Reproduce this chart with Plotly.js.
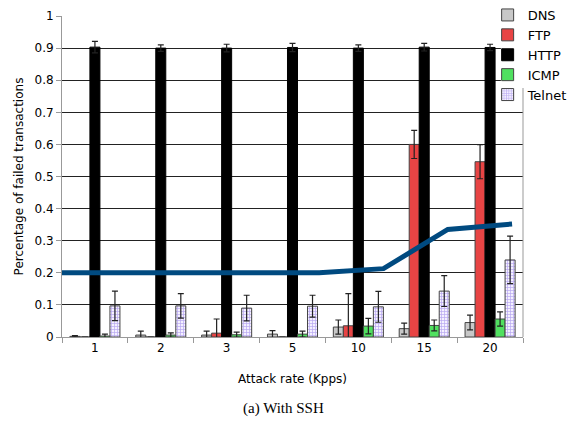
<!DOCTYPE html>
<html><head><meta charset="utf-8">
<script src="https://cdn.plot.ly/plotly-3.0.1.min.js"></script>
<style>body{margin:0;background:#fff}#c{width:569px;height:422px}</style>
</head><body><div id="c"></div>
<script>
const categories = ['1','2','3','5','10','15','20'];
const dns = [0.002,0.006,0.006,0.009,0.031,0.026,0.045];
const dnsErr = [0.002,0.012,0.012,0.011,0.022,0.017,0.023];
const ftp = [0,0,0.012,0,0.035,0.6,0.546];
const ftpErr = [0,0,0.044,0,0.1,0.044,0.053];
const http = [0.903,0.9,0.9,0.902,0.9,0.903,0.902];
const httpErr = [0.018,0.01,0.012,0.013,0.01,0.012,0.01];
const icmp = [0.003,0.006,0.007,0.009,0.034,0.036,0.056];
const icmpErr = [0.006,0.007,0.008,0.009,0.024,0.017,0.022];
const telnet = [0.097,0.097,0.09,0.096,0.094,0.143,0.24];
const telnetErr = [0.046,0.038,0.04,0.034,0.048,0.048,0.074];
const linePos = [0,1,2,3,4,5,6,7];
const lineVals = [0.2,0.2,0.2,0.2,0.2,0.213,0.335,0.352];

const eb = (arr)=>({type:'data',array:arr,visible:true,color:'#222',thickness:1.2,width:3});
const border = {color:'#444',width:1};
const traces = [
 {type:'bar',name:'DNS',x:categories,y:dns,error_y:eb(dnsErr),marker:{color:'#c8c8c8',line:border}},
 {type:'bar',name:'FTP',x:categories,y:ftp,error_y:eb(ftpErr),marker:{color:'#e84444',line:border}},
 {type:'bar',name:'HTTP',x:categories,y:http,error_y:eb(httpErr),marker:{color:'#000000',line:{color:'#000',width:1}}},
 {type:'bar',name:'ICMP',x:categories,y:icmp,error_y:eb(icmpErr),marker:{color:'#50e060',line:border}},
 {type:'bar',name:'Telnet',x:categories,y:telnet,error_y:eb(telnetErr),marker:{color:'#ffffff',line:border,pattern:{shape:'+',fgcolor:'#b8a8f0',bgcolor:'#f4f0ff',size:3,solidity:0.4}}},
 {type:'scatter',mode:'lines',name:'SSH',x:linePos,y:lineVals,xaxis:'x2',showlegend:false,line:{color:'#004a80',width:5}}
];
const layout = {
 width:569,height:422,
 margin:{l:62,r:46,t:16,b:85,autoexpand:false},
 paper_bgcolor:'#fff',plot_bgcolor:'#fff',
 font:{family:'DejaVu Sans, Verdana, sans-serif',size:12,color:'#000'},
 barmode:'group',bargap:0.24,bargroupgap:0,
 showlegend:true,
 legend:{xref:'container',yref:'container',x:0.857,xanchor:'left',y:1.0,yanchor:'top',bgcolor:'rgba(0,0,0,0)',font:{size:13},tracegroupgap:0,itemwidth:30},
 xaxis:{type:'category',showline:true,linecolor:'#999',linewidth:1,ticks:'outside',tickson:'boundaries',ticklen:5,tickcolor:'#999',showgrid:false,
   title:{text:'Attack rate (Kpps)',font:{size:12},standoff:20}},
 xaxis2:{overlaying:'x',range:[0,7.17],visible:false},
 yaxis:{range:[0,1],dtick:0.1,showline:true,linecolor:'#999',linewidth:1,ticks:'outside',ticklen:5,tickcolor:'#999',
   showgrid:true,gridcolor:'#222',gridwidth:1.3,zeroline:false,mirror:false,
   title:{text:'Percentage of failed transactions',font:{size:12},standoff:8}},
 shapes:[
   {type:'line',xref:'paper',yref:'paper',x0:1,x1:1,y0:0,y1:1,line:{color:'#999',width:1}},
   {type:'rect',xref:'paper',yref:'paper',x0:0.952,x1:1.12,y0:0.776,y1:1.06,layer:'above',fillcolor:'#ffffff',line:{width:0}}
 ],
 annotations:[{text:'(a) With SSH',xref:'paper',yref:'paper',x:0.48,y:-0.224,yanchor:'middle',showarrow:false,font:{family:'Liberation Serif, Times New Roman, serif',size:15}}]
};
Plotly.newPlot('c',traces,layout,{displayModeBar:false});
</script></body></html>
